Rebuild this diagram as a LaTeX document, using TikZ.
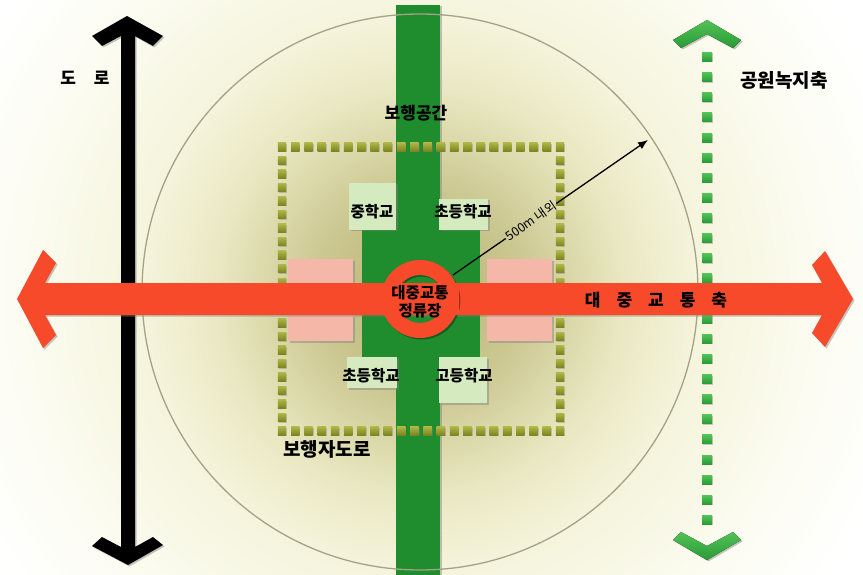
\documentclass[tikz,border=0pt]{standalone}
\usepackage{fontspec}
\newfontfamily\kr{Noto Sans CJK KR}
\usetikzlibrary{shadows,arrows.meta}
\definecolor{bgA}{HTML}{B5B070}
\definecolor{bgB}{HTML}{CCC892}
\definecolor{bgC}{HTML}{EAE8C2}
\definecolor{bgD}{HTML}{F5F4DC}
\definecolor{bgE}{HTML}{FCFCF2}
\definecolor{gband}{HTML}{1F8C2E}
\definecolor{schoolc}{HTML}{D5EBBF}
\definecolor{pinkc}{HTML}{F4B7A8}
\definecolor{redA}{HTML}{F64A2B}
\definecolor{sqtop}{HTML}{AEB545}
\definecolor{sqbot}{HTML}{7A8420}
\definecolor{gaxtop}{HTML}{52C257}
\definecolor{gaxbot}{HTML}{2A9A35}
\definecolor{circc}{HTML}{A5A386}
\pgfdeclareradialshading{bgshade}{\pgfpoint{0bp}{0bp}}{color(0bp)=(bgA); color(4.7bp)=(bgB); color(9.1bp)=(bgC); color(12.4bp)=(bgD); color(17.9bp)=(bgE); color(22.3bp)=(white); color(50bp)=(white)}
\begin{document}
\begin{tikzpicture}[x=1pt,y=-1pt,
  shadowed/.style={drop shadow={opacity=0.45,shadow xshift=1.5pt,shadow yshift=-1.5pt}},
  lbl/.style={inner sep=0pt,text=black},
  schoolbox/.style={fill=schoolc,shadowed},
  pinkbox/.style={fill=pinkc,shadowed},
  osq/.style={top color=sqtop,bottom color=sqbot,drop shadow={opacity=0.4,shadow xshift=1pt,shadow yshift=-1pt}},
  gsq/.style={top color=gaxtop,bottom color=gaxbot,drop shadow={opacity=0.4,shadow xshift=1pt,shadow yshift=-1pt}},
  schooltxt/.style={lbl,font=\kr\bfseries\fontsize{15.5}{18}\selectfont},
]
\useasboundingbox (0,0) rectangle (863,575);
\begin{scope}
\clip (0,0) rectangle (863,575);
\shade[shading=bgshade] (420,292) circle (560);
\end{scope}
% green pedestrian band
\fill[gband,shadowed] (396,5) rectangle (440,575);
\fill[gband] (362,225) rectangle (480,357);
% circle outline
\draw[circc,line width=1.3pt] (420,292) circle (278);
% pink blocks
\fill[pinkbox] (288,259) rectangle (353,285);
\fill[pinkbox] (288,315) rectangle (353,341);
\fill[pinkbox] (487,259) rectangle (552,285);
\fill[pinkbox] (487,315) rectangle (552,341);
% school boxes
\fill[schoolbox] (349,183) rectangle (396,230);
\fill[schoolbox] (439,199) rectangle (488,230);
\fill[schoolbox] (347,357) rectangle (397,388);
\fill[schoolbox] (439,357) rectangle (487,403);
% dotted square (pedestrian road)
\foreach \i in {0,...,21}{
  \fill[osq] ({282+\i*13.238-4.2},142.8) rectangle +(8.4,8.4);
  \fill[osq] ({282+\i*13.238-4.2},426.8) rectangle +(8.4,8.4);
}
\foreach \j in {1,...,20}{
  \fill[osq] (277.8,{147+\j*13.524-4.2}) rectangle +(8.4,8.4);
  \fill[osq] (555.8,{147+\j*13.524-4.2}) rectangle +(8.4,8.4);
}
% black road arrow
\fill[black,shadowed] (127,16) -- (163,36) -- (153,46) -- (135,36) -- (135,547) -- (153,537) -- (163,545) -- (128,565) -- (92,546) -- (102,537) -- (121,547) -- (121,36) -- (102,46) -- (92,36) -- cycle;
% green park axis
\foreach \i in {0,...,23}{
  \fill[gsq] (702,{57+\i*20.13-4.5}) rectangle +(10,9);
}
\fill[top color=gaxtop,bottom color=gaxbot,shadowed] (707,20) -- (741,40) -- (733,48) -- (707,34) -- (681,48) -- (673,40) -- cycle;
\fill[top color=gaxtop,bottom color=gaxbot,shadowed] (707,560) -- (741,540) -- (733,532) -- (707,546) -- (681,532) -- (673,540) -- cycle;
% red transit axis
\fill[redA,shadowed] (17,299) -- (43,250) -- (56,263) -- (45,283) -- (822,283) -- (812,265) -- (825,251) -- (853,299) -- (825,347) -- (812,333) -- (822,315) -- (45,315) -- (56,335) -- (43,348) -- cycle;
% station ring (manual shadow so the hole stays open)
\fill[black,opacity=0.35,even odd rule] (421.5,300.5) circle (39) (421.5,300.5) circle (24);
\fill[redA,even odd rule] (420,299) circle (39) (420,299) circle (24);
\fill[redA] (381,283) rectangle (459,315);
\node[lbl,font=\kr\bfseries\fontsize{15.5}{18}\selectfont,align=center] (stn) at (420,302) {대중교통\\정류장};
% schools text
\node[schooltxt] (s1) at (372,212) {중학교};
\node[schooltxt] (s2) at (463,212) {초등학교};
\node[schooltxt] (s3) at (371,376) {초등학교};
\node[schooltxt] (s4) at (464,376) {고등학교};
% labels
\node[lbl,font=\kr\bfseries\fontsize{17}{20}\selectfont] (bh) at (416,113) {보행공간};
\node[lbl,font=\kr\bfseries\fontsize{19}{22}\selectfont] (bhj) at (327,449) {보행자도로};
\node[lbl,font=\kr\bfseries\fontsize{17}{20}\selectfont] (road) at (85,78) {\spaceskip=18pt\relax 도 로};
\node[lbl,font=\kr\bfseries\fontsize{19}{22}\selectfont] (park) at (784,80) {공원녹지축};
\node[lbl,font=\kr\bfseries\fontsize{17}{20}\selectfont] (axis) at (656,300) {\spaceskip=16pt\relax 대 중 교 통 축};
% 500m radius line
\coordinate (lstart) at (453,275);
\coordinate (ltip) at (648,140);
\node[rotate=34.7,inner sep=1.5pt,font=\kr\fontsize{12.5}{14}\selectfont] (dist) at (531,221) {500m 내외};
\draw[line width=1.3pt] (lstart) -- (dist.west);
\draw[line width=1.3pt,-{Latex[length=10pt,width=8pt]}] (dist.east) -- (ltip);
\end{tikzpicture}
\end{document}
